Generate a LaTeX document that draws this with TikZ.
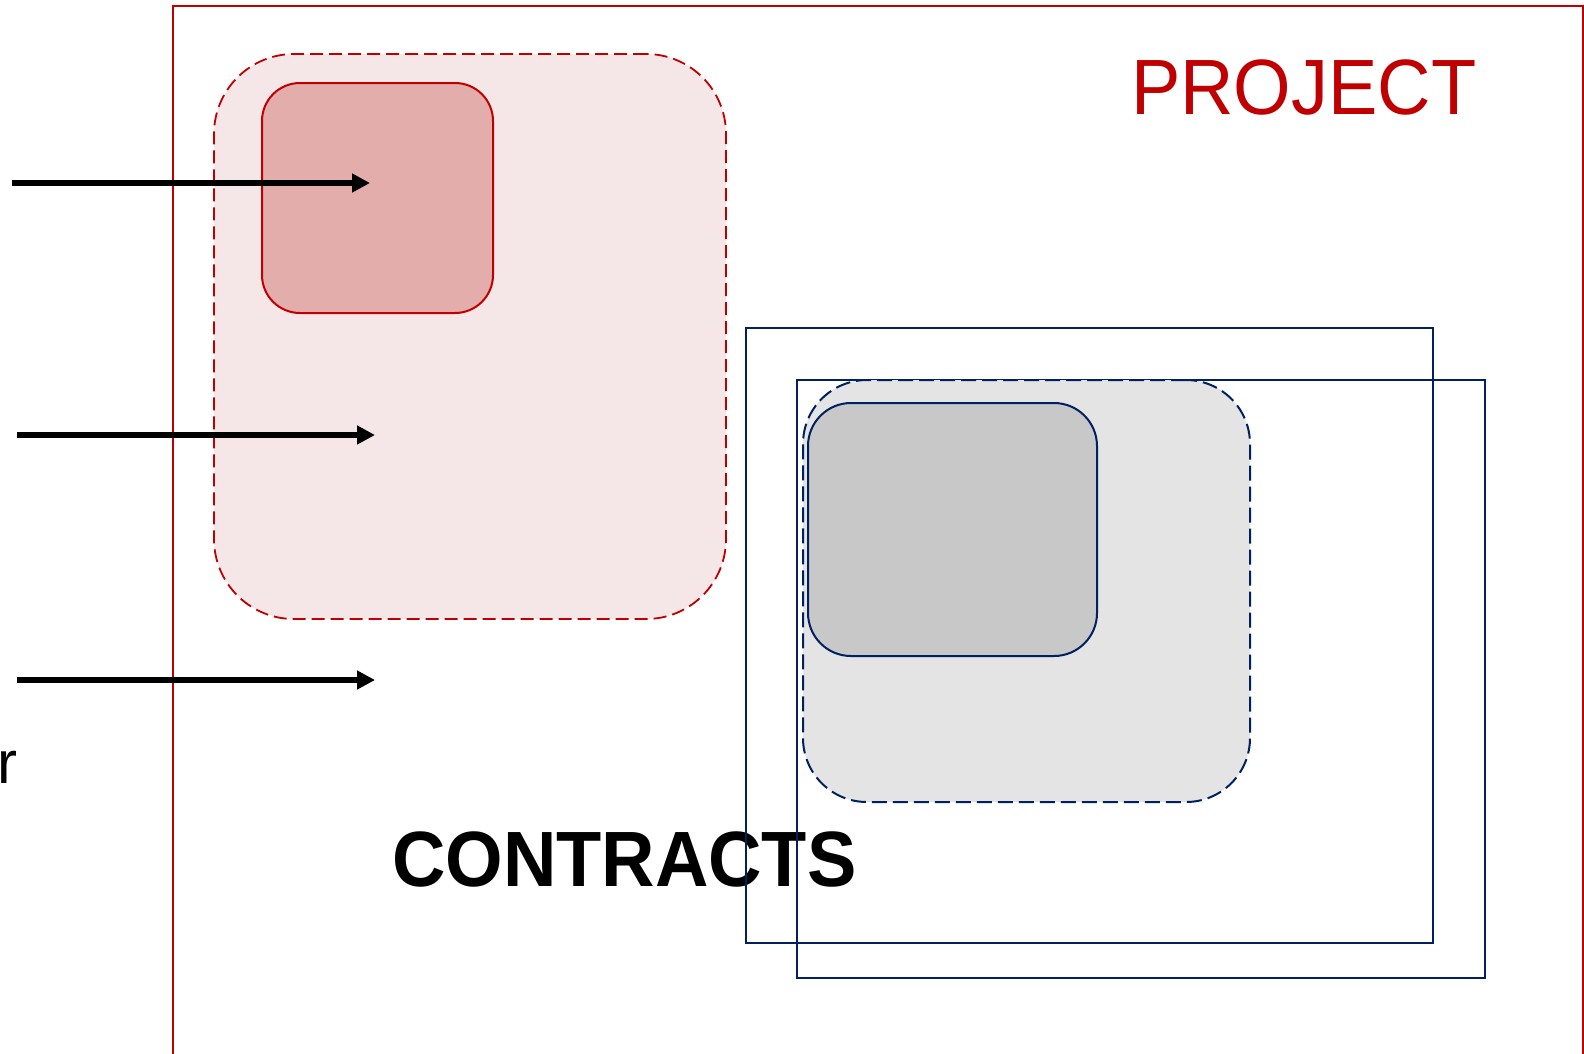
\documentclass[tikz,border=0pt]{standalone}
\usepackage{fontspec}
\setmainfont{Liberation Sans}
\usetikzlibrary{arrows.meta}
\definecolor{projred}{RGB}{192,0,0}
\definecolor{navy}{RGB}{0,32,96}
\definecolor{pinkfill}{RGB}{245,231,231}
\definecolor{rosefill}{RGB}{226,173,170}
\definecolor{lgray}{RGB}{228,228,228}
\definecolor{mgray}{RGB}{200,200,200}
\tikzset{
  box/.style={rectangle, anchor=north west, inner sep=0pt, outer sep=0pt},
  redframe/.style={draw=projred, line width=1.8pt},
  reddash/.style={box, draw=projred, fill=pinkfill, line width=1.8pt, dash pattern=on 13pt off 6pt, rounded corners=80pt},
  redsolid/.style={box, draw=projred, fill=rosefill, line width=2pt, rounded corners=38pt},
  bluerect/.style={box, draw=navy, line width=2pt},
  bluedash/.style={box, draw=navy, fill=lgray, line width=2pt, dash pattern=on 15pt off 6pt, rounded corners=64pt},
  bluesolid/.style={box, draw=navy, fill=mgray, line width=2pt, rounded corners=43pt},
  arr/.style={line width=5.5pt, -{Triangle[length=18pt,width=18pt]}},
  bigtxt/.style={inner sep=0pt, outer sep=0pt, font=\fontsize{74}{80}\selectfont},
}
\begin{document}
\begin{tikzpicture}[x=1pt,y=-1pt]
\useasboundingbox (0,0) rectangle (1584,1053);
% project frame
\node[box, redframe, minimum width=1410pt, minimum height=1100pt] (frame) at (173,6) {};
\node[bigtxt, text=projred, anchor=base west] (project) at (1131,114) {\scalebox{1}[1.06]{PROJECT}};
% red boxes
\node[reddash, minimum width=512pt, minimum height=565pt] (rdash) at (214,54) {};
\node[redsolid, minimum width=231pt, minimum height=230pt] (rsolid) at (262,83) {};
% arrows
\coordinate (a1s) at (12,183);
\coordinate (a1e) at (370,183);
\coordinate (a2s) at (17,435);
\coordinate (a2e) at (375,435);
\coordinate (a3s) at (17,680);
\coordinate (a3e) at (375,680);
\draw[arr] (a1s) -- (a1e);
\draw[arr] (a2s) -- (a2e);
\draw[arr] (a3s) -- (a3e);
% left letter
\node[inner sep=0pt, outer sep=0pt, anchor=base east, font=\fontsize{60}{66}\selectfont] (rletter) at (17,783) {r};
% contracts label
\node[bigtxt, font=\fontsize{74}{80}\selectfont\bfseries, anchor=base west] (contracts) at (392,886) {\scalebox{1}[1.06]{CONTRACTS}};
% blue rectangles
\node[bluerect, minimum width=687pt, minimum height=615pt] (brect1) at (746,328) {};
\node[bluerect, minimum width=688pt, minimum height=598pt] (brect2) at (797,380) {};
% gray boxes
\node[bluedash, minimum width=447pt, minimum height=422pt] (bdash) at (803,380) {};
\node[bluesolid, minimum width=289pt, minimum height=253pt] (bsolid) at (808,403) {};
\end{tikzpicture}
\end{document}
